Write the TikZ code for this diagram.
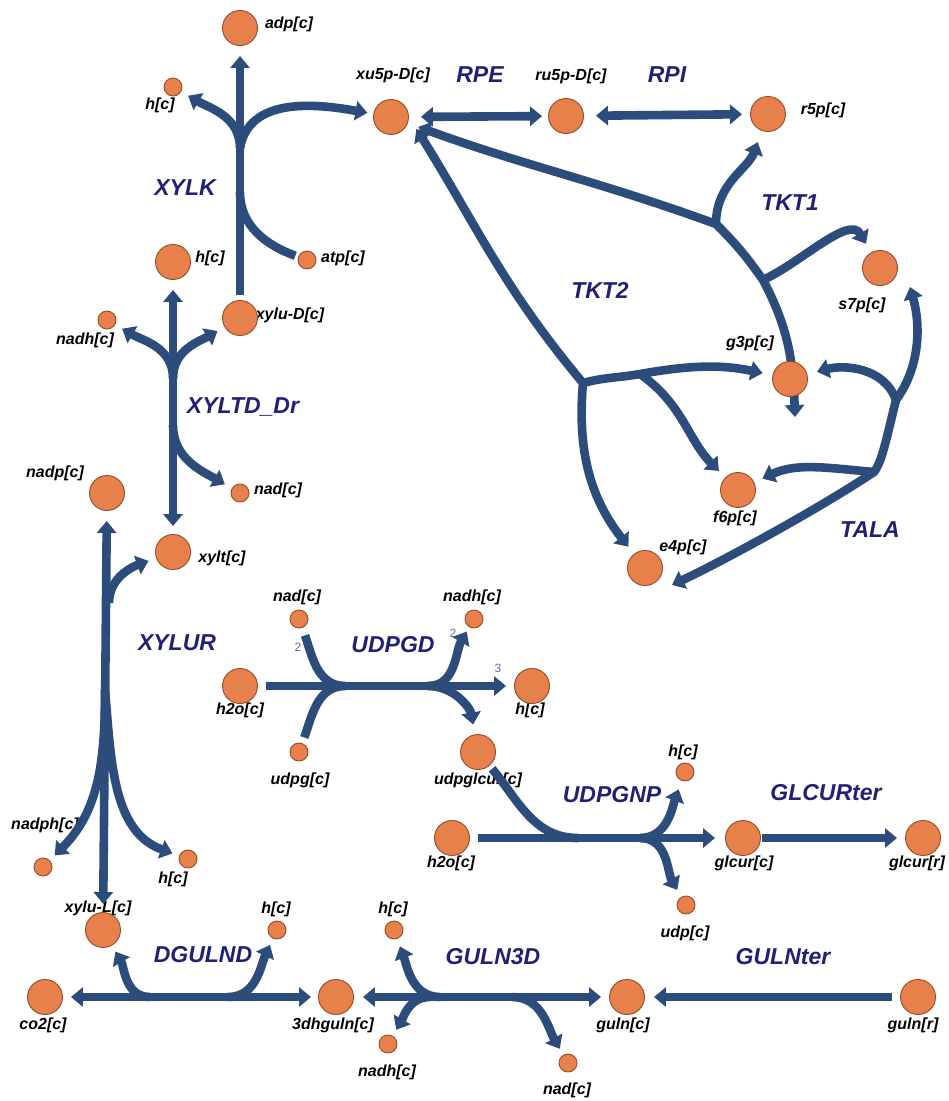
\documentclass[tikz,border=0pt]{standalone}
\usepackage{fontspec}
\setmainfont{Liberation Sans}
\usetikzlibrary{arrows.meta}
\definecolor{flux}{RGB}{44,77,124}
\definecolor{metfill}{RGB}{232,128,76}
\definecolor{metdraw}{RGB}{150,75,35}
\definecolor{rxnlab}{RGB}{32,32,118}
\definecolor{stoich}{RGB}{100,112,160}
\pgfdeclarelayer{lab}
\pgfdeclarelayer{lines}
\pgfsetlayers{lab,lines,main}
\begin{document}
\begin{tikzpicture}[x=1pt,y=1pt,
  >={Triangle[width=19pt,length=12pt]},
  met/.style={circle, fill=metfill, draw=metdraw, line width=0.9pt, inner sep=0pt, minimum size=35pt},
  smet/.style={met, minimum size=18pt},
  ml/.style={font=\fontsize{16}{16}\selectfont\bfseries\itshape, inner sep=0pt},
  rl/.style={font=\fontsize{23}{23}\selectfont\bfseries\itshape, text=rxnlab, inner sep=0pt},
  st/.style={font=\fontsize{12}{12}\selectfont, text=stoich, inner sep=0pt},
  rx/.style={draw=flux, line width=8.6pt}]
\useasboundingbox (0,0) rectangle (949,-1101);
% metabolites
\node[met] (adp) at (240,-28) {};
\node[smet] (hA) at (173,-87) {};
\node[met] (xu5p) at (391,-117) {};
\node[met] (ru5p) at (566,-116) {};
\node[met] (r5p) at (768,-114) {};
\node[met] (hB) at (173,-262) {};
\node[smet] (atp) at (307,-260) {};
\node[met] (s7p) at (880,-268) {};
\node[smet] (nadhA) at (107,-320) {};
\node[met] (xyluD) at (240,-318) {};
\node[met] (g3p) at (790,-379) {};
\node[met] (nadp) at (107,-493) {};
\node[smet] (nadA) at (240,-493) {};
\node[met] (f6p) at (738,-490) {};
\node[met] (xylt) at (173,-552) {};
\node[met] (e4p) at (645,-568) {};
\node[smet] (nadB) at (299,-619) {};
\node[smet] (nadhB) at (474,-619) {};
\node[met] (h2oA) at (240,-686) {};
\node[met] (hC) at (532,-686) {};
\node[smet] (udpg) at (299,-752) {};
\node[met] (udpglcur) at (478,-752) {};
\node[smet] (hD) at (685,-772) {};
\node[met] (h2oB) at (452,-838) {};
\node[met] (glcurc) at (743,-838) {};
\node[met] (glcurr) at (923,-838) {};
\node[smet] (nadph) at (43,-867) {};
\node[smet] (hE) at (188,-859) {};
\node[smet] (udp) at (686,-905) {};
\node[met] (xyluL) at (103,-930) {};
\node[smet] (hF) at (277,-930) {};
\node[smet] (hG) at (394,-930) {};
\node[met] (co2) at (45,-997) {};
\node[met] (dhguln) at (336,-997) {};
\node[met] (gulnc) at (627,-997) {};
\node[met] (gulnr) at (918,-997) {};
\node[smet] (nadhC) at (388,-1044) {};
\node[smet] (nadC) at (568,-1063) {};
% junctions
\coordinate (kj) at (240,-148);
\coordinate (kk) at (240,-192);
\coordinate (tj) at (173,-378);
\coordinate (tj2) at (173,-425);
\coordinate (uj1) at (109,-603);
\coordinate (uj2) at (105,-690);
\coordinate (dj) at (345,-686);
\coordinate (dj2) at (428,-686);
\coordinate (pj) at (578,-838);
\coordinate (pj2) at (640,-838);
\coordinate (dgj1) at (150,-997);
\coordinate (dgj2) at (228,-997);
\coordinate (gj1) at (440,-997);
\coordinate (gj2) at (430,-997);
\coordinate (gj3) at (512,-997);
\coordinate (t1a) at (716,-224);
\coordinate (t1b) at (763,-280);
\coordinate (t1end) at (795,-417);
\coordinate (t2a) at (583,-383);
\coordinate (t2b) at (640,-374);
\coordinate (s7ptip) at (910,-287);
\coordinate (taj1) at (896,-400);
\coordinate (taj2) at (874,-472);
\coordinate (e4ptip) at (672,-585);
\begin{pgfonlayer}{lab}
\fill[white] (0,0) rectangle (949,-1101);
\node[ml] (Ladp) at (289,-24) {adp[c]};
\node[ml] (LhA) at (160,-105) {h[c]};
\node[ml] (Lxu5p) at (393,-75) {xu5p-D[c]};
\node[rl] (LRPE) at (480,-75) {RPE};
\node[ml] (Lru5p) at (571,-76) {ru5p-D[c]};
\node[rl] (LRPI) at (667,-75) {RPI};
\node[ml] (Lr5p) at (823,-110) {r5p[c]};
\node[rl] (LXYLK) at (185,-188) {XYLK};
\node[rl] (LTKT1) at (790,-203) {TKT1};
\node[ml] (LhB) at (210,-258) {h[c]};
\node[ml] (Latp) at (343,-258) {atp[c]};
\node[ml] (Ls7p) at (862,-305) {s7p[c]};
\node[rl] (LTKT2) at (600,-290) {TKT2};
\node[ml] (LnadhA) at (85,-340) {nadh[c]};
\node[ml] (LxyluD) at (290,-315) {xylu-D[c]};
\node[ml] (Lg3p) at (750,-343) {g3p[c]};
\node[rl] (LXYLTD) at (243,-407) {XYLTD\_Dr};
\node[ml] (Lnadp) at (55,-473) {nadp[c]};
\node[ml] (LnadA) at (278,-490) {nad[c]};
\node[ml] (Lf6p) at (735,-518) {f6p[c]};
\node[rl] (LTALA) at (870,-530) {TALA};
\node[ml] (Lxylt) at (222,-558) {xylt[c]};
\node[ml] (Le4p) at (683,-547) {e4p[c]};
\node[ml] (LnadB) at (297,-597) {nad[c]};
\node[ml] (LnadhB) at (472,-597) {nadh[c]};
\node[rl] (LXYLUR) at (177,-643) {XYLUR};
\node[rl] (LUDPGD) at (393,-645) {UDPGD};
\node[st] (S1) at (298,-647) {2};
\node[st] (S2) at (453,-633) {2};
\node[st] (S3) at (498,-668) {3};
\node[ml] (Lh2oA) at (240,-710) {h2o[c]};
\node[ml] (LhC) at (530,-710) {h[c]};
\node[ml] (Ludpg) at (300,-780) {udpg[c]};
\node[ml] (Ludpglcur) at (478,-780) {udpglcur[c]};
\node[ml] (LhD) at (683,-752) {h[c]};
\node[rl] (LUDPGNP) at (612,-795) {UDPGNP};
\node[rl] (LGLCUR) at (826,-793) {GLCURter};
\node[ml] (Lh2oB) at (451,-863) {h2o[c]};
\node[ml] (Lglcurc) at (744,-863) {glcur[c]};
\node[ml] (Lglcurr) at (917,-863) {glcur[r]};
\node[ml] (Lnadph) at (45,-825) {nadph[c]};
\node[ml] (LhE) at (173,-879) {h[c]};
\node[ml] (Ludp) at (685,-933) {udp[c]};
\node[ml] (LxyluL) at (98,-908) {xylu-L[c]};
\node[ml] (LhF) at (276,-909) {h[c]};
\node[ml] (LhG) at (393,-909) {h[c]};
\node[rl] (LDGULND) at (203,-955) {DGULND};
\node[rl] (LGULN3D) at (493,-957) {GULN3D};
\node[rl] (LGULNter) at (783,-957) {GULNter};
\node[ml] (Lco2) at (43,-1025) {co2[c]};
\node[ml] (Ldhguln) at (333,-1025) {3dhguln[c]};
\node[ml] (Lgulnc) at (623,-1025) {guln[c]};
\node[ml] (Lgulnr) at (913,-1025) {guln[r]};
\node[ml] (LnadhC) at (387,-1072) {nadh[c]};
\node[ml] (LnadC) at (567,-1090) {nad[c]};
\end{pgfonlayer}
\begin{pgfonlayer}{lines}
% XYLK
\draw[rx,->, shorten <=5pt, shorten >=10pt] (xyluD) -- (adp);
\draw[rx,->, shorten >=8pt] (kj) to[out=90,in=-30] (hA);
\draw[rx,->, shorten >=6pt] (kj) to[out=80,in=170] (xu5p);
\draw[rx, shorten <=3pt] (atp) to[out=160,in=-90] (kk);
% RPE, RPI
\draw[rx,<->, shorten <=12pt, shorten >=6pt] (xu5p) -- (ru5p);
\draw[rx,<->, shorten <=12pt, shorten >=8pt] (ru5p) -- (r5p);
% XYLTD_Dr
\draw[rx,<->, shorten <=8pt, shorten >=10pt] (xylt) -- (hB);
\draw[rx,->, shorten >=8pt] (tj) to[out=90,in=-30] (nadhA);
\draw[rx,->, shorten >=8pt] (tj) to[out=90,in=210] (xyluD);
\draw[rx,->, shorten >=8pt] (tj2) to[out=-90,in=150] (nadA);
% XYLUR
\draw[rx,<->, shorten <=8pt, shorten >=10pt] (xyluL) -- (nadp);
\draw[rx,->, shorten >=8pt] (uj1) to[out=90,in=200] (xylt);
\draw[rx,->, shorten >=7pt] (uj2) to[out=-90,in=45] (nadph);
\draw[rx,->, shorten >=7pt] (uj2) to[out=-85,in=160] (hE);
% UDPGD
\draw[rx,->, shorten <=8pt, shorten >=8pt] (h2oA) -- (hC);
\draw[rx, shorten <=8pt] (nadB) to[out=-70,in=180] (dj);
\draw[rx, shorten <=6pt] (udpg) to[out=70,in=180] (dj);
\draw[rx,->, shorten >=5pt] (dj2) to[out=0,in=-120] (nadhB);
\draw[rx,->, shorten >=10pt] (dj2) to[out=0,in=100] (udpglcur);
% UDPGNP
\draw[rx,->, shorten <=8pt, shorten >=10pt] (h2oB) -- (glcurc);
\draw[rx, shorten <=4pt] (udpglcur) to[out=-50,in=180] (pj);
\draw[rx,->, shorten >=9pt] (pj2) to[out=0,in=-110] (hD);
\draw[rx,->, shorten >=8pt] (pj2) to[out=0,in=120] (udp);
% GLCURter
\draw[rx,->, shorten <=1pt, shorten >=8pt] (glcurc) -- (glcurr);
% DGULND
\draw[rx,<->, shorten <=8pt, shorten >=7pt] (co2) -- (dhguln);
\draw[rx,->, shorten >=7pt] (dgj1) to[out=180,in=-60] (xyluL);
\draw[rx,->, shorten >=7pt] (dgj2) to[out=0,in=-115] (hF);
% GULN3D
\draw[rx,<->, shorten <=9pt, shorten >=8pt] (dhguln) -- (gulnc);
\draw[rx,->, shorten >=8pt] (gj1) to[out=180,in=-70] (hG);
\draw[rx,->, shorten >=7pt] (gj2) to[out=180,in=60] (nadhC);
\draw[rx,->, shorten >=7pt] (gj3) to[out=0,in=120] (nadC);
% GULNter
\draw[rx,->, shorten <=8pt, shorten >=9pt] (gulnr) -- (gulnc);
% TKT1
\draw[rx,<->, shorten <=11pt] (xu5p.-20) to[out=-20,in=160] (t1a) to[out=-45,in=125] (t1b) to[out=-62,in=92] (t1end);
\draw[rx,->, shorten >=12pt] (t1a) to[out=90,in=-110] (r5p);
\draw[rx,->, shorten >=10pt] (t1b) to[out=25,in=120] (s7p);
% TKT2
\draw[rx,<-, shorten <=14pt] (xu5p.0) to[out=-58,in=130] (t2a);
\draw[rx,->, shorten >=10pt] (t2a) to[out=15,in=190] (t2b) to[out=10,in=168] (g3p);
\draw[rx,->, shorten >=9pt] (t2b) to[out=-35,in=135] (f6p);
\draw[rx,->, shorten >=9pt] (t2a) to[out=-95,in=128] (e4p);
% TALA
\draw[rx,<->] (s7ptip) .. controls (922,-330) and (918,-370) .. (taj1) .. controls (886,-440) and (882,-462) .. (taj2) .. controls (820,-508) and (725,-560) .. (e4ptip);
\draw[rx,->, shorten >=10pt] (taj1) to[out=110,in=15] (g3p);
\draw[rx,->, shorten >=9pt] (taj2) to[out=175,in=25] (f6p);
\end{pgfonlayer}
\end{tikzpicture}
\end{document}
